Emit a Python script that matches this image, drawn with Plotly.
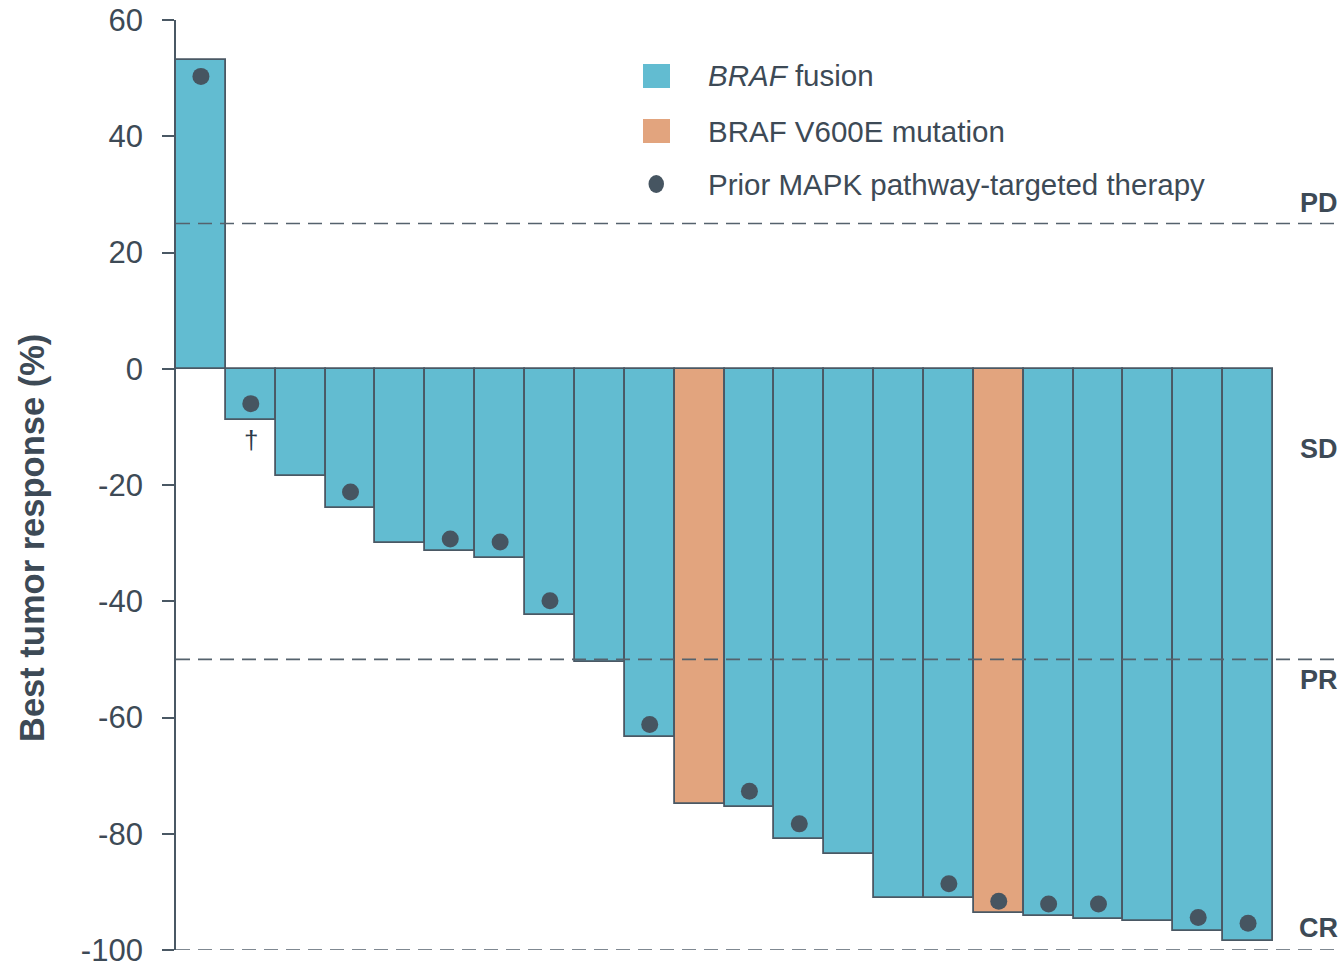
import plotly.graph_objects as go

# ---- data ----
patients = list(range(1, 23))
response = [53.2, -8.8, -18.4, -23.9, -30.0, -31.3, -32.6, -42.4, -50.5, -63.3,
            -74.9, -75.4, -80.9, -83.5, -91.0, -91.0, -93.6, -94.1, -94.7, -95.0,
            -96.7, -98.5]
alteration = ["fusion"] * 10 + ["V600E"] + ["fusion"] * 5 + ["V600E"] + ["fusion"] * 5
prior_patients = [1, 2, 4, 6, 7, 8, 10, 12, 13, 16, 17, 18, 19, 21, 22]
prior_marker_y = [50.3, -6.0, -21.2, -29.3, -29.8, -39.9, -61.2, -72.7, -78.3,
                  -88.6, -91.6, -92.1, -92.1, -94.4, -95.4]
dagger_patient = 2
dagger_y = -12.3
thresholds = [25, -50, -100]
threshold_labels = ["PD", "SD", "PR", "CR"]
threshold_label_y = [28.6, -13.8, -53.6, -96.2]
yticks = [60, 40, 20, 0, -20, -40, -60, -80, -100]
legend_labels = ["<i>BRAF</i> fusion", "BRAF V600E mutation", "Prior MAPK pathway-targeted therapy"]

# ---- styling ----
BLUE = "#62bcd1"
ORANGE = "#e2a47e"
EDGE = "#4a5864"
DOT = "#465561"
TEXT = "#3d4a56"
FONT = "Liberation Sans, Arial, sans-serif"

W, H = 1344, 968
ML, MR, MT, MB = 176, 0, 20, 18
PW, PH = W - ML - MR, H - MT - MB

def px(xp):
    return (xp - ML) / PW

def py(yp):
    return (H - MB - yp) / PH

xpos = [p - 1 for p in patients]
colors = [BLUE if a == "fusion" else ORANGE for a in alteration]

fig = go.Figure()
fig.add_trace(go.Bar(
    x=xpos, y=response, width=1.0,
    marker=dict(color=colors, line=dict(color=EDGE, width=1.8)),
    showlegend=False, hoverinfo="y",
))
fig.add_trace(go.Scatter(
    x=[p - 1 for p in prior_patients], y=prior_marker_y, mode="markers",
    marker=dict(color=DOT, size=17, line=dict(width=0)),
    showlegend=False,
))

shapes = []
for t in thresholds:
    shapes.append(dict(type="line", xref="paper", yref="y", x0=0, x1=px(1340), y0=t, y1=t,
                       line=dict(color="#55626d", width=1.6, dash="14px,8px"), layer="above"))

# custom legend
shapes.append(dict(type="rect", xref="paper", yref="paper", x0=px(643), x1=px(670),
                   y0=py(88), y1=py(64), fillcolor=BLUE, line=dict(width=0)))
shapes.append(dict(type="rect", xref="paper", yref="paper", x0=px(643), x1=px(670),
                   y0=py(143), y1=py(119), fillcolor=ORANGE, line=dict(width=0)))
shapes.append(dict(type="circle", xref="paper", yref="paper", x0=px(648.5), x1=px(664),
                   y0=py(193), y1=py(175), fillcolor=DOT, line=dict(width=0)))

annotations = []
for lab, yy in zip(legend_labels, [76, 131, 184]):
    annotations.append(dict(xref="paper", yref="paper", x=px(706), y=py(yy), text=lab,
                            showarrow=False, xanchor="left", yanchor="middle",
                            font=dict(family=FONT, size=29.5, color=TEXT)))
for lab, yy in zip(threshold_labels, threshold_label_y):
    annotations.append(dict(xref="paper", yref="y", x=px(1340), y=yy, text="<b>%s</b>" % lab,
                            showarrow=False, xanchor="right", yanchor="middle",
                            font=dict(family=FONT, size=27, color=TEXT)))
annotations.append(dict(xref="x", yref="y", x=dagger_patient - 1, y=dagger_y, text="†",
                        showarrow=False, xanchor="center", yanchor="middle",
                        font=dict(family=FONT, size=26, color="#2b3a4a")))
annotations.append(dict(xref="paper", yref="paper", x=px(32), y=py(538),
                        text="<b>Best tumor response (%)</b>", textangle=-90,
                        showarrow=False, xanchor="center", yanchor="middle",
                        font=dict(family=FONT, size=34.5, color=TEXT)))

fig.update_layout(
    width=W, height=H,
    margin=dict(l=ML, r=MR, t=MT, b=MB, pad=0, autoexpand=False),
    paper_bgcolor="white", plot_bgcolor="white",
    bargap=0,
    shapes=shapes, annotations=annotations,
    xaxis=dict(visible=False, automargin=False,
               range=[-0.5, -0.5 + PW / ((1273 - 176) / 22)]),
    yaxis=dict(range=[-100, 60], tickvals=yticks, ticktext=[str(v) for v in yticks],
               automargin=False,
               showgrid=False, zeroline=False, showline=True, linecolor=EDGE, linewidth=1.8,
               ticks="outside", ticklen=12, tickcolor=EDGE, tickwidth=1.5,
               ticklabelstandoff=13, ticklabeloverflow="allow",
               tickfont=dict(family=FONT, size=31, color=TEXT)),
    showlegend=False,
)

fig.write_html(
    "out.html", config={"displayModeBar": False},
    post_script=("document.documentElement.style.margin='0';"
                 "document.documentElement.style.overflow='hidden';"
                 "document.body.style.margin='0';document.body.style.padding='0';"
                 "document.body.style.overflow='hidden';"))
